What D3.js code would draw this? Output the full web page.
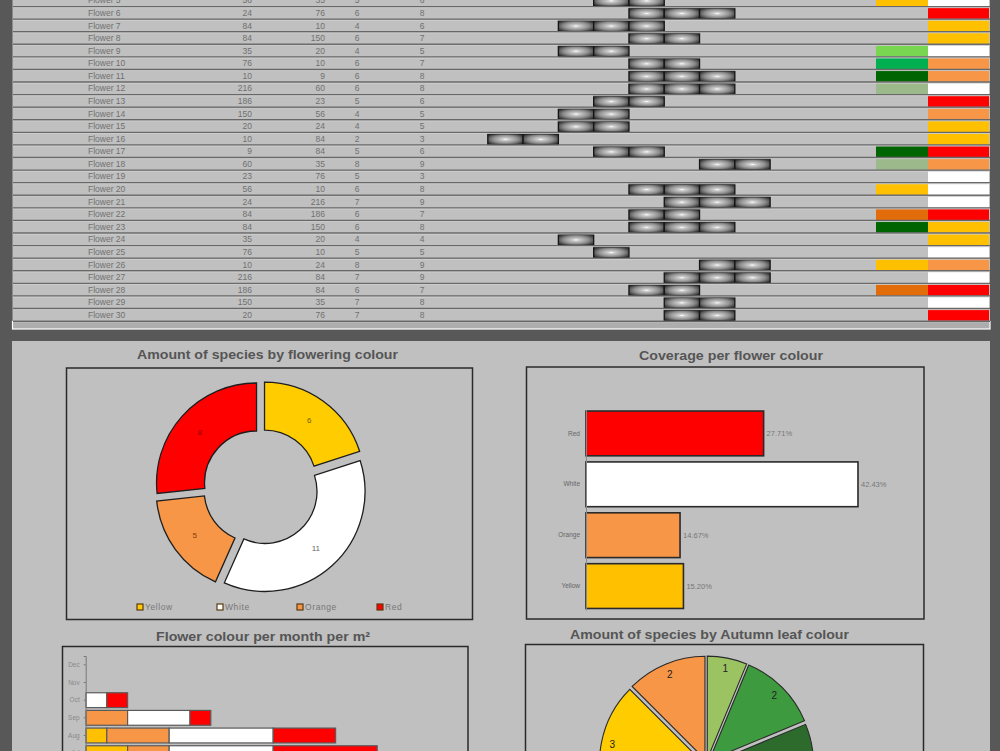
<!DOCTYPE html>
<html>
<head>
<meta charset="utf-8">
<script src="https://cdn.jsdelivr.net/npm/d3@7"></script>
<style>
body { margin: 0; background: #585858; }
svg { display: block; font-family: "Liberation Sans", Arial, sans-serif; }
</style>
</head>
<body>
<svg width="1000" height="751"></svg>
<script>
// ---- table data (rows visible in the picture) ----
var flowers = ["Flower 5", "Flower 6", "Flower 7", "Flower 8", "Flower 9", "Flower 10", "Flower 11", "Flower 12",
  "Flower 13", "Flower 14", "Flower 15", "Flower 16", "Flower 17", "Flower 18", "Flower 19", "Flower 20",
  "Flower 21", "Flower 22", "Flower 23", "Flower 24", "Flower 25", "Flower 26", "Flower 27", "Flower 28",
  "Flower 29", "Flower 30"];
var amount = [56, 24, 84, 84, 35, 76, 10, 216, 186, 150, 20, 10, 9, 60, 23, 56, 24, 84, 84, 35, 76, 10, 216, 186, 150, 20];
var area = [35, 76, 10, 150, 20, 10, 9, 60, 23, 56, 24, 84, 84, 35, 76, 10, 216, 186, 150, 20, 10, 24, 84, 84, 35, 76];
var startMonth = [5, 6, 4, 6, 4, 6, 6, 6, 5, 4, 4, 2, 5, 8, 5, 6, 7, 6, 6, 4, 5, 8, 7, 6, 7, 7];
var endMonth = [6, 8, 6, 7, 5, 7, 8, 8, 6, 5, 5, 3, 6, 9, 3, 8, 9, 7, 8, 4, 5, 9, 9, 7, 8, 8];
var leafColour = ["Yellow", "", "", "", "Light green", "Green", "Dark green", "Grey green", "", "", "", "",
  "Dark green", "Grey green", "", "Yellow", "", "Dark orange", "Dark green", "", "", "Yellow", "", "Dark orange", "", ""];
var bloomColour = ["White", "Red", "Yellow", "Yellow", "White", "Orange", "Orange", "White", "Red", "Orange",
  "Yellow", "Yellow", "Red", "Orange", "White", "White", "White", "Red", "Yellow", "Yellow", "White", "Orange",
  "White", "Red", "White", "Red"];
var monthNums = [1, 2, 3, 4, 5, 6, 7, 8, 9, 10, 11, 12];

// ---- chart 1: species by flowering colour ----
var bloomCats = ["Yellow", "White", "Orange", "Red"];
var bloomCounts = [6, 11, 5, 8];

// ---- chart 2: coverage per flower colour ----
var coverCats = ["Red", "White", "Orange", "Yellow"];
var coverPct = [27.71, 42.43, 14.67, 15.20];

// ---- chart 3: flower colour per month ----
var months = ["Jan", "Feb", "Mar", "Apr", "May", "Jun", "Jul", "Aug", "Sep", "Oct", "Nov", "Dec"];
var monthYellow = [0, 1, 1, 3, 2, 3, 2, 1, 0, 0, 0, 0];
var monthOrange = [0, 0, 0, 1, 1, 2, 2, 3, 2, 0, 0, 0];
var monthWhite = [0, 0, 0, 1, 3, 3, 5, 5, 3, 1, 0, 0];
var monthRed = [0, 0, 0, 0, 2, 5, 5, 3, 1, 1, 0, 0];

// ---- chart 4: species by autumn leaf colour ----
var leafCats = ["Light green", "Green", "Dark green", "Grey green", "Red", "Yellow", "Orange"];
var leafCounts = [1, 2, 3, 2, 3, 3, 2];

var fillOf = {
  "Yellow": "#ffc000", "White": "#ffffff", "Orange": "#f79646", "Red": "#ff0000",
  "Light green": "#78d651", "Green": "#00b050", "Dark green": "#006400", "Grey green": "#9bb98a",
  "Dark orange": "#e36c0a"
};
var donutFill = { "Yellow": "#ffcc00", "White": "#ffffff", "Orange": "#f79646", "Red": "#ff0000" };
var donutText = { "Yellow": "#7a5a00", "White": "#666666", "Orange": "#7a3a10", "Red": "#990000" };
var leafPieFill = {
  "Light green": "#9bc362", "Green": "#3e9a3e", "Dark green": "#2c6b2c", "Grey green": "#6f9a5a",
  "Red": "#c0392b", "Yellow": "#ffcc00", "Orange": "#f79646"
};

var svg = d3.select("svg");
svg.append("rect").attr("width", 1000).attr("height", 751).attr("fill", "#585858");

var defs = svg.append("defs");
var grad = defs.append("radialGradient").attr("id", "cellGrad")
  .attr("cx", "50%").attr("cy", "50%").attr("r", "60%");
grad.append("stop").attr("offset", "0%").attr("stop-color", "#ffffff");
grad.append("stop").attr("offset", "15%").attr("stop-color", "#cfcfcf");
grad.append("stop").attr("offset", "60%").attr("stop-color", "#8c8c8c");
grad.append("stop").attr("offset", "100%").attr("stop-color", "#2e2e2e");

// ================= TABLE =================
svg.append("rect").attr("x", 12.5).attr("y", -10).attr("width", 977.5).attr("height", 331.5)
  .attr("fill", "#c0c0c0");
svg.append("rect").attr("x", 12.5).attr("y", 321.5).attr("width", 977.5).attr("height", 7.5)
  .attr("fill", "#adadad").attr("stroke", "#ffffff").attr("stroke-width", 1.2);

var rowY = d3.scaleBand().domain(flowers).range([-5.9, 321.2]);
var monthX = d3.scaleBand().domain(monthNums).range([452.5, 876]);

var table = svg.append("g");
var rows = table.selectAll("g.row").data(flowers).enter().append("g")
  .attr("class", "row")
  .attr("transform", function (d) { return "translate(0," + rowY(d) + ")"; });

var rh = rowY.bandwidth();

// leaf colour and flower colour cells
rows.append("rect")
  .attr("x", 876).attr("y", 1).attr("width", 52).attr("height", rh - 1.5)
  .attr("fill", function (d, i) { return leafColour[i] ? fillOf[leafColour[i]] : "none"; });
rows.append("rect")
  .attr("x", 928).attr("y", 1).attr("width", 61).attr("height", rh - 1.5)
  .attr("fill", function (d, i) { return fillOf[bloomColour[i]]; });

// row lines
table.selectAll("line.rl").data(flowers).enter().append("line")
  .attr("x1", 13).attr("x2", 990)
  .attr("y1", function (d) { return rowY(d) + rh; }).attr("y2", function (d) { return rowY(d) + rh; })
  .attr("stroke", "#686868").attr("stroke-width", 1.6);
table.selectAll("line.rl2").data(flowers).enter().append("line")
  .attr("x1", 13).attr("x2", 990)
  .attr("y1", function (d) { return rowY(d) + 1; }).attr("y2", function (d) { return rowY(d) + 1; })
  .attr("stroke", "#d4d4d4").attr("stroke-width", 0.8);

// text columns
var tStyle = function (s) {
  s.attr("font-size", 8.5).attr("fill", "#707070").attr("dy", "0.35em");
};
rows.append("text").attr("x", 88).attr("y", rh / 2).text(function (d) { return d; }).call(tStyle);
rows.append("text").attr("x", 252).attr("y", rh / 2).attr("text-anchor", "end")
  .text(function (d, i) { return amount[i]; }).call(tStyle);
rows.append("text").attr("x", 325).attr("y", rh / 2).attr("text-anchor", "end")
  .text(function (d, i) { return area[i]; }).call(tStyle);
rows.append("text").attr("x", 357).attr("y", rh / 2).attr("text-anchor", "middle")
  .text(function (d, i) { return startMonth[i]; }).call(tStyle);
rows.append("text").attr("x", 422).attr("y", rh / 2).attr("text-anchor", "middle")
  .text(function (d, i) { return endMonth[i]; }).call(tStyle);

// flowering period cells
rows.each(function (d, i) {
  var ms = d3.range(startMonth[i], endMonth[i] + 1);
  d3.select(this).selectAll("rect.cell").data(ms).enter().append("rect")
    .attr("class", "cell")
    .attr("x", function (m) { return monthX(m); })
    .attr("y", 1.2)
    .attr("width", monthX.bandwidth())
    .attr("height", rh - 1.4)
    .attr("fill", "url(#cellGrad)")
    .attr("stroke", "#151515").attr("stroke-width", 1.3);
});

// ================= LOWER PANEL =================
svg.append("rect").attr("x", 12).attr("y", 341).attr("width", 978).attr("height", 420).attr("fill", "#c0c0c0");

function title(x, y, w, txt) {
  svg.append("text").attr("x", x).attr("y", y).attr("text-anchor", "middle")
    .attr("font-size", 13.5).attr("font-weight", "bold").attr("fill", "#555555")
    .attr("textLength", w).attr("lengthAdjust", "spacingAndGlyphs").text(txt);
}
function frame(x, y, w, h) {
  svg.append("rect").attr("x", x).attr("y", y).attr("width", w).attr("height", h)
    .attr("fill", "none").attr("stroke", "#2a2a2a").attr("stroke-width", 1.5);
}

// ---- chart 1: donut ----
title(267.5, 359, 261, "Amount of species by flowering colour");
frame(66.5, 368, 406, 251.5);

var donut = svg.append("g").attr("transform", "translate(261,487)");
var pie = d3.pie().sort(null).value(function (d) { return d; });
var donutArc = d3.arc().innerRadius(52).outerRadius(100);
var donutData = pie(bloomCounts);
var dg = donut.selectAll("g").data(donutData).enter().append("g")
  .attr("transform", function (d) {
    var a = (d.startAngle + d.endAngle) / 2;
    return "translate(" + (6 * Math.sin(a)) + "," + (-6 * Math.cos(a)) + ")";
  });
dg.append("path").attr("d", donutArc)
  .attr("fill", function (d, i) { return donutFill[bloomCats[i]]; })
  .attr("stroke", "#1e1e1e").attr("stroke-width", 1.3);
dg.append("text")
  .attr("transform", function (d) { return "translate(" + donutArc.centroid(d) + ")"; })
  .attr("text-anchor", "middle").attr("dy", "0.35em").attr("font-size", 8)
  .attr("fill", function (d, i) { return donutText[bloomCats[i]]; })
  .text(function (d) { return d.data; });

var legX = d3.scalePoint().domain(bloomCats).range([140, 380]);
var leg = svg.selectAll("g.leg").data(bloomCats).enter().append("g")
  .attr("transform", function (d) { return "translate(" + legX(d) + ",607)"; });
leg.append("rect").attr("x", -3).attr("y", -3).attr("width", 6).attr("height", 6)
  .attr("fill", function (d) { return donutFill[d]; })
  .attr("stroke", "#5a3a10").attr("stroke-width", 1.2);
leg.append("text").attr("x", 5).attr("dy", "0.35em").attr("font-size", 8.5).attr("fill", "#777")
  .attr("letter-spacing", 0.6).text(function (d) { return d; });

// ---- chart 2: coverage bars ----
title(731, 360, 184, "Coverage per flower colour");
frame(526.5, 367, 397.5, 252);

var cx = d3.scaleLinear().domain([0, 50]).range([586, 906.5]);
var cy = d3.scaleBand().domain(coverCats).range([409.5, 610]).paddingInner(0.12).paddingOuter(0.03);
var cov = svg.append("g");
cov.selectAll("rect").data(coverCats).enter().append("rect")
  .attr("x", cx(0)).attr("y", function (d) { return cy(d); })
  .attr("width", function (d, i) { return cx(coverPct[i]) - cx(0); })
  .attr("height", cy.bandwidth())
  .attr("fill", function (d) { return fillOf[d]; })
  .attr("stroke", "#2a2a2a").attr("stroke-width", 1.6);
cov.selectAll("text.val").data(coverCats).enter().append("text")
  .attr("x", function (d, i) { return cx(coverPct[i]) + 3; })
  .attr("y", function (d) { return cy(d) + cy.bandwidth() / 2; })
  .attr("dy", "0.35em").attr("font-size", 7.5).attr("fill", "#777")
  .text(function (d, i) { return d3.format(".2f")(coverPct[i]) + "%"; });
var cAxis = cov.append("g").attr("transform", "translate(586,0)")
  .call(d3.axisLeft(cy).tickSize(0).tickPadding(6));
cAxis.select(".domain").attr("stroke", "#888");
cAxis.selectAll("text").attr("font-size", 6.5).attr("fill", "#666").attr("font-family", "Liberation Sans, Arial, sans-serif");

// ---- chart 3: flower colour per month ----
title(263, 641, 214, "Flower colour per month per m\u00b2");
frame(62.5, 646.5, 405.5, 140);

var stackKeys = ["Yellow", "Orange", "White", "Red"];
var monthRows = months.map(function (m, i) {
  return { month: m, Yellow: monthYellow[i], Orange: monthOrange[i], White: monthWhite[i], Red: monthRed[i] };
});
var series = d3.stack().keys(stackKeys)(monthRows);
var mx = d3.scaleLinear().domain([0, 18]).range([86, 460.4]);
var my = d3.scaleBand().domain(months.slice().reverse()).range([656, 868]).paddingInner(0.16).paddingOuter(0.08);
var mg = svg.append("g");
mg.selectAll("g.s").data(series).enter().append("g")
  .attr("fill", function (s) { return fillOf[s.key]; })
  .selectAll("rect").data(function (s) { return s.filter(function (p) { return p[1] > p[0]; }); })
  .enter().append("rect")
  .attr("x", function (p) { return mx(p[0]); })
  .attr("y", function (p) { return my(p.data.month); })
  .attr("width", function (p) { return mx(p[1]) - mx(p[0]); })
  .attr("height", my.bandwidth())
  .attr("stroke", "#5a5a5a").attr("stroke-width", 1.2);
var mAxis = mg.append("g").attr("transform", "translate(85.7,0)")
  .call(d3.axisLeft(my).tickSize(2).tickPadding(4));
mAxis.select(".domain").attr("stroke", "#777");
mAxis.selectAll("line").attr("stroke", "#777");
mAxis.selectAll("text").attr("font-size", 6.5).attr("fill", "#888").attr("font-family", "Liberation Sans, Arial, sans-serif");

// ---- chart 4: autumn leaf colour pie ----
title(709.5, 639, 279, "Amount of species by Autumn leaf colour");
frame(525.5, 644.5, 398, 140);

var leafPie = svg.append("g").attr("transform", "translate(706.5,763)");
var lArc = d3.arc().innerRadius(0).outerRadius(103);
var lLabel = d3.arc().innerRadius(92).outerRadius(92);
var lg = leafPie.selectAll("g").data(pie(leafCounts)).enter().append("g")
  .attr("transform", function (d) {
    var a = (d.startAngle + d.endAngle) / 2;
    return "translate(" + (4 * Math.sin(a)) + "," + (-4 * Math.cos(a)) + ")";
  });
lg.append("path").attr("d", lArc)
  .attr("fill", function (d, i) { return leafPieFill[leafCats[i]]; })
  .attr("stroke", "#2a2a2a").attr("stroke-width", 1.1);
lg.append("text")
  .attr("transform", function (d) { return "translate(" + lLabel.centroid(d) + ")"; })
  .attr("text-anchor", "middle").attr("dy", "0.35em").attr("font-size", 10).attr("fill", "#222")
  .text(function (d) { return d.data; });
</script>
</body>
</html>
